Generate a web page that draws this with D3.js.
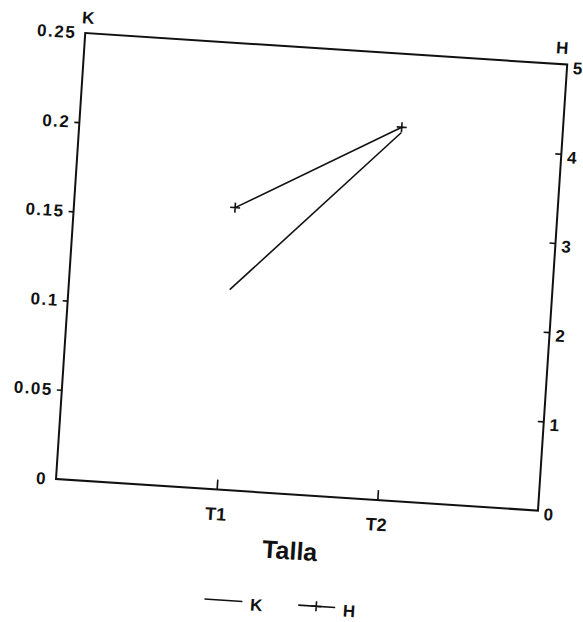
<!DOCTYPE html>
<html lang="en">
  <head>
    <title>K y H por talla</title>
    <script src="https://d3js.org/d3.v7.min.js"></script>
    <style>
      body { margin: 0; background: #fff; }
      text
      {
        font-family: "Liberation Sans", Arial, sans-serif;
        font-weight: bold;
        fill: #111;
      }
      .frame { fill: none; stroke: #111; stroke-width: 2; }
      .serie { fill: none; stroke: #111; stroke-width: 1.6; }
    </style>
  </head>
  <body>
    <svg width="583" height="622"></svg>

    <script>
      // datos
      var tallas = ["T1", "T2"];
      var valoresK = [0.112, 0.206];
      var valoresH = [3.16, 4.18];
      var ticksK = [0, 0.05, 0.1, 0.15, 0.2, 0.25];
      var ticksH = [0, 1, 2, 3, 4, 5];

      var W = 483, H = 447;
      // la figura original esta escaneada un poco girada
      var svg = d3.select("svg");
      var g = svg.append("g")
                 .attr("transform", "translate(56,479) rotate(3.75) translate(0," + (-H) + ")");

      var x = d3.scaleLinear().domain([0, 3]).range([0, W]);
      var yK = d3.scaleLinear().domain([0, 0.25]).range([H, 0]);
      var yH = d3.scaleLinear().domain([0, 5]).range([H, 0]);

      g.append("rect").attr("class", "frame")
       .attr("x", 0).attr("y", 0).attr("width", W).attr("height", H);

      // eje izquierdo (K)
      var ejeK = g.append("g").call(d3.axisLeft(yK).tickValues(ticksK)
                                      .tickFormat(d3.format("")).tickSize(5).tickPadding(4));
      ejeK.select(".domain").remove();
      ejeK.selectAll(".tick line").attr("stroke", "#111").attr("stroke-width", 1.6)
          .filter(function(d){ return d == 0 || d == 0.25; }).remove();
      ejeK.selectAll(".tick text").attr("font-size", 17).attr("letter-spacing", 1.5)
          .attr("font-family", null).attr("fill", "#111");

      // eje derecho (H), ticks hacia dentro
      var ejeH = g.append("g").attr("transform", "translate(" + W + ",0)")
                  .call(d3.axisRight(yH).tickValues(ticksH).tickFormat(d3.format("d"))
                          .tickSize(-6).tickPadding(6));
      ejeH.select(".domain").remove();
      ejeH.selectAll(".tick line").attr("stroke", "#111").attr("stroke-width", 1.6)
          .filter(function(d){ return d == 0 || d == 5; }).remove();
      ejeH.selectAll(".tick text").attr("font-size", 17).attr("dy", "0.5em")
          .attr("font-family", null).attr("fill", "#111");

      // eje inferior (Talla), ticks hacia dentro
      var ejeX = g.append("g").attr("transform", "translate(0," + H + ")")
                  .call(d3.axisBottom(x).tickValues([1, 2])
                          .tickFormat(function(d){ return tallas[d - 1]; })
                          .tickSize(-10).tickPadding(18));
      ejeX.select(".domain").remove();
      ejeX.selectAll(".tick line").attr("stroke", "#111").attr("stroke-width", 1.6);
      ejeX.selectAll(".tick text").attr("font-size", 18)
          .attr("font-family", null).attr("fill", "#111");

      g.append("text").attr("x", 2).attr("y", -15).attr("text-anchor", "middle")
       .attr("dominant-baseline", "central").attr("font-size", 17).text("K");
      g.append("text").attr("x", 477).attr("y", -16).attr("text-anchor", "middle")
       .attr("dominant-baseline", "central").attr("font-size", 17).text("H");
      g.append("text").attr("x", 238).attr("y", H + 56).attr("text-anchor", "middle")
       .attr("dominant-baseline", "central").attr("font-size", 25).text("Talla");

      // series
      var lineaK = d3.line().x(function(d, i){ return x(i + 1); })
                            .y(function(d){ return yK(d); });
      var lineaH = d3.line().x(function(d, i){ return x(i + 1); })
                            .y(function(d){ return yH(d); });

      g.append("path").attr("class", "serie").attr("d", lineaK(valoresK));
      g.append("path").attr("class", "serie").attr("d", lineaH(valoresH));

      // marcador "+" de H
      function mas(sel, cx, cy)
      {
        sel.append("path")
           .attr("d", "M" + (cx - 5) + "," + cy + "h10M" + cx + "," + (cy - 5) + "v10")
           .attr("stroke", "#111").attr("stroke-width", 1.6);
      }
      valoresH.forEach(function(d, i){ mas(g, x(i + 1), yH(d)); });

      // leyenda
      var ley = g.append("g").attr("transform", "translate(0," + (H + 110) + ")");
      ley.append("line").attr("x1", 156).attr("x2", 194).attr("y1", 0).attr("y2", 0)
         .attr("stroke", "#111").attr("stroke-width", 1.6);
      ley.append("text").attr("x", 202).attr("y", 3).attr("dominant-baseline", "central")
         .attr("font-size", 17).text("K");
      ley.append("line").attr("x1", 250).attr("x2", 287).attr("y1", 0).attr("y2", 0)
         .attr("stroke", "#111").attr("stroke-width", 1.6);
      mas(ley, 268, 0);
      ley.append("text").attr("x", 295).attr("y", 3).attr("dominant-baseline", "central")
         .attr("font-size", 17).text("H");
    </script>
  </body>
</html>
